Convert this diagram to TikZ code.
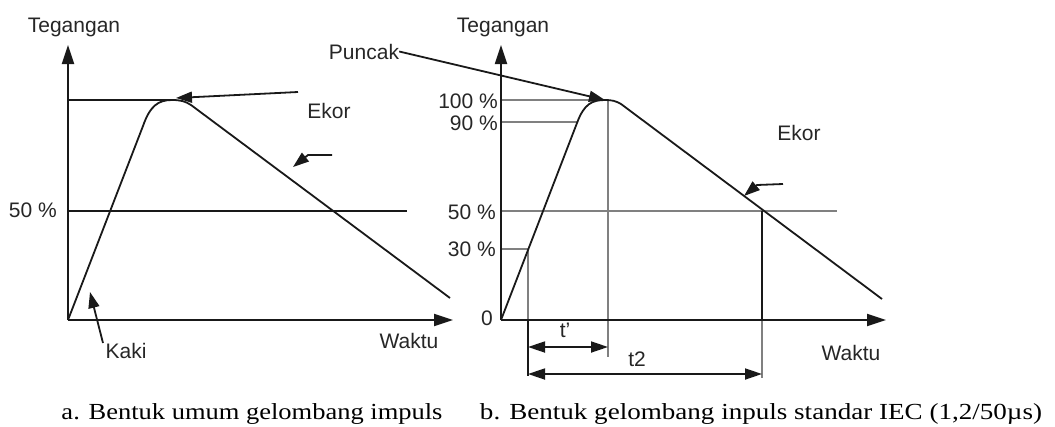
\documentclass[tikz,border=0pt]{standalone}
\usepackage{fontspec}
\setmainfont{Liberation Serif}
\newfontfamily\arialf{Liberation Sans}
\usetikzlibrary{arrows.meta}
\begin{document}
\begin{tikzpicture}[x=1pt,y=-1pt,
  ln/.style={line width=1.8pt, black!90},
  gl/.style={line width=2.2pt, black!50},
  ax/.style={ln, -{Triangle[length=19pt,width=12pt]}},
  ptr/.style={ln, line join=round, -{Triangle[length=16pt,width=11pt]}},
  dim/.style={ln, {Triangle[length=17pt,width=11pt]}-{Triangle[length=17pt,width=11pt]}},
  lbl/.style={font=\arialf\fontsize{21}{25}\selectfont, inner sep=0pt, text=black!85},
  captxt/.style={font=\fontsize{23}{27}\selectfont, inner sep=0pt}]
\useasboundingbox (0,0) rectangle (1055,426);

% ---------------- left diagram ----------------
\coordinate (Lo) at (68,320);
\coordinate (Ly) at (68,45);
\coordinate (Lx) at (453,320);
\draw[ln] (68,100) -- (175,100);
\draw[ln] (68,211) -- (407,211);
\draw[ax] (Lo) -- (Ly);
\draw[ax] (Lo) -- (Lx);
\draw[ln, line join=round] (Lo) -- (143,126) .. controls (150,106) and (158,100) .. (172,100)
   .. controls (180,100) and (185,101) .. (191,105) -- (450,298);

\node[lbl, anchor=base] (LTeg) at (74,32) {Tegangan};
\node[lbl, anchor=base east] (L50) at (57,217) {50 \%};
\node[lbl, anchor=base] (LEkor) at (329,118) {Ekor};
\node[lbl, anchor=base] (LKaki) at (126,358) {Kaki};
\node[lbl, anchor=base] (LWaktu) at (409,348) {Waktu};

\coordinate (LpkS) at (298,92);
\coordinate (LpkT) at (176,98);
\draw[ptr] (LpkS) -- (LpkT);
\coordinate (LekS) at (332,155);
\coordinate (LekM) at (308,155);
\coordinate (LekT) at (293,167);
\draw[ptr] (LekS) -- (LekM) -- (LekT);
\coordinate (LkaS) at (103,343);
\coordinate (LkaT) at (90,292);
\draw[ptr] (LkaS) -- (LkaT);

% ---------------- right diagram ----------------
\coordinate (Ro) at (501,320);
\coordinate (Ry) at (501,45);
\coordinate (Rx) at (886,320);
\draw[gl] (501,100) -- (608,100) -- (608,357);
\draw[gl] (501,122) -- (578,122);
\draw[gl] (501,211) -- (837,211);
\draw[gl] (501,249) -- (528,249) -- (528,320);
\draw[ln] (528,320) -- (528,376);
\draw[ln] (762,211) -- (762,320);
\draw[gl] (762,320) -- (762,378);
\draw[ax] (Ro) -- (Ry);
\draw[ax] (Ro) -- (Rx);
\draw[ln, line join=round] (Ro) -- (577,123) .. controls (584,104) and (592,100) .. (605,100)
   .. controls (612,100) and (616,101) .. (621,104) -- (882,299);

\coordinate (T1a) at (528,347);
\coordinate (T1b) at (608,347);
\coordinate (T2a) at (528,374);
\coordinate (T2b) at (762,374);
\draw[dim] (T1a) -- (T1b);
\draw[dim] (T2a) -- (T2b);

\node[lbl, anchor=base] (RTeg) at (503,32) {Tegangan};
\node[lbl, anchor=base] (Puncak) at (364,59) {Puncak};
\node[lbl, anchor=base] (REkor) at (799,140) {Ekor};
\node[lbl, anchor=base] (RWaktu) at (851,360) {Waktu};
\node[lbl, anchor=base east] (R100) at (498,108) {100 \%};
\node[lbl, anchor=base east] (R90) at (498,130) {90 \%};
\node[lbl, anchor=base east] (R50) at (496,219) {50 \%};
\node[lbl, anchor=base east] (R30) at (496,256) {30 \%};
\node[lbl, anchor=base] (R0) at (487,325) {0};
\node[lbl, anchor=base] (Rt1) at (565,337) {t’};
\node[lbl, anchor=base] (Rt2) at (637,366) {t2};

\coordinate (RpkT) at (605,100);
\draw[ptr] (Puncak.east) -- (RpkT);
\coordinate (RekS) at (783,184);
\coordinate (RekM) at (757,185);
\coordinate (RekT) at (744,196);
\draw[ptr] (RekS) -- (RekM) -- (RekT);

% ---------------- captions ----------------
\node[captxt, anchor=base] (capA) at (252,419) {\resizebox{381pt}{\height}{a. Bentuk umum gelombang impuls}};
\node[captxt, anchor=base] (capB) at (761,419) {\resizebox{562pt}{\height}{b. Bentuk gelombang inpuls standar IEC (1,2/50µs)}};
\end{tikzpicture}
\end{document}
